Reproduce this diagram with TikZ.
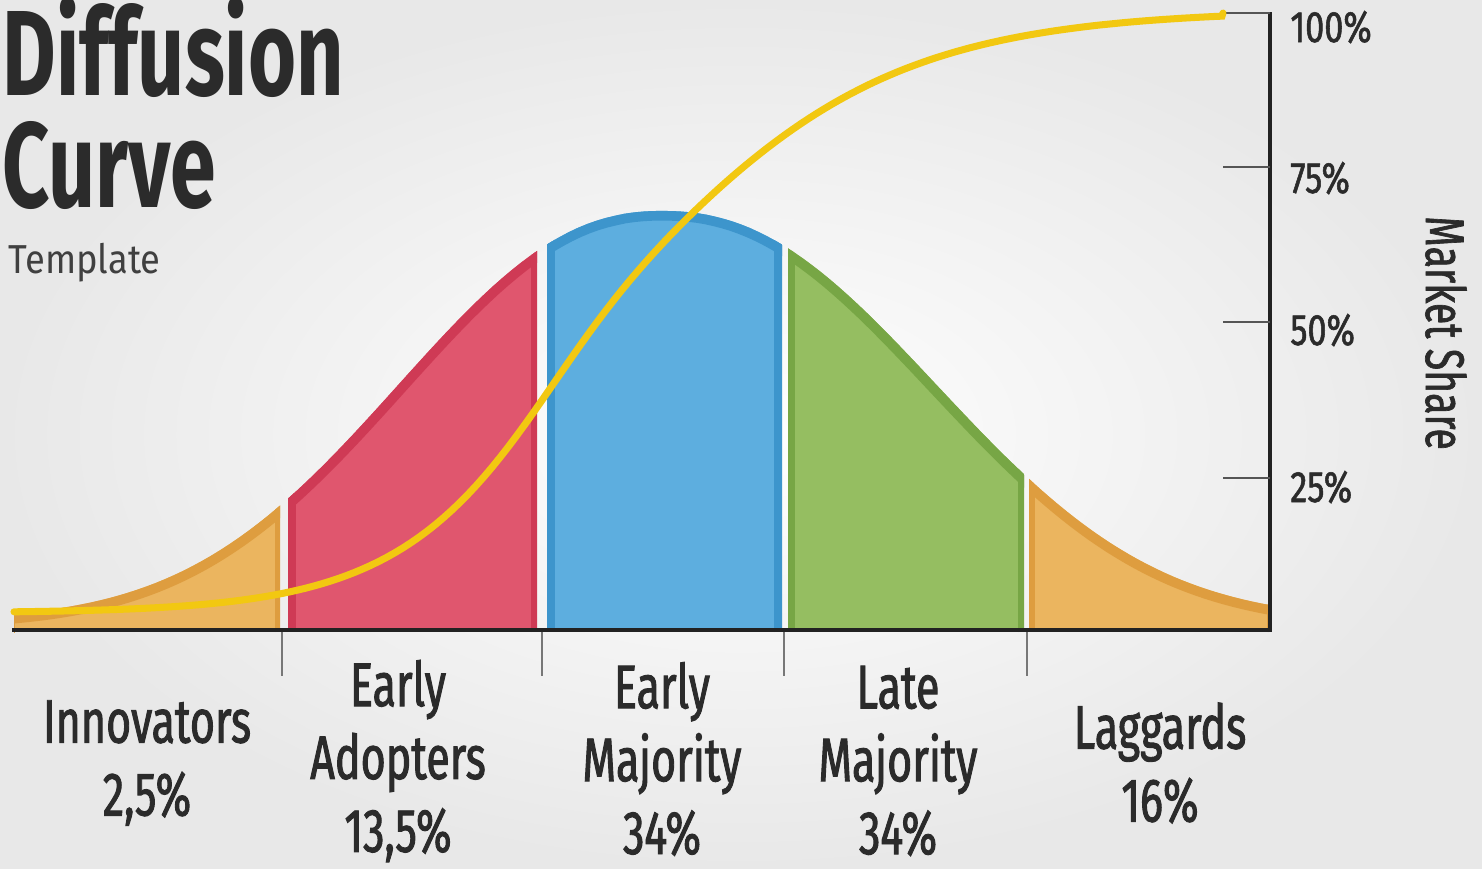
\documentclass[tikz,border=0pt]{standalone}
\usepackage{fontspec}
\setmainfont{Fira Sans}
\newfontfamily\condf[FakeStretch=0.70,FakeBold=1.5]{Fira Sans}
\newfontfamily\pctf[FakeStretch=0.78,FakeBold=1.2]{Fira Sans}
\newfontfamily\msf[FakeStretch=0.72,FakeBold=1.2]{Fira Sans}
\newfontfamily\titlef[FakeStretch=0.68]{Fira Sans}
\newfontfamily\tplf[FakeStretch=0.9]{Fira Sans}
\definecolor{txt}{HTML}{2B2B2B}
\definecolor{orL}{HTML}{EBB55F}
\definecolor{orD}{HTML}{DE9D3F}
\definecolor{redL}{HTML}{E0566E}
\definecolor{redD}{HTML}{CF3A55}
\definecolor{bluL}{HTML}{5DAEDF}
\definecolor{bluD}{HTML}{3D95CC}
\definecolor{grnL}{HTML}{95BE61}
\definecolor{grnD}{HTML}{77A645}
\definecolor{yel}{HTML}{F2C811}
\definecolor{axis}{HTML}{222222}
\definecolor{tick}{HTML}{555555}
\def\bellpath{plot[domain=14:662,samples=70] (\x,{bellf(\x,343)}) -- plot[domain=662:1270,samples=70] (\x,{bellf(\x,357)})}
% #1 x1, #2 x2, #3 fill, #4 dark, #5 left band, #6 right band
\newcommand\bellseg[6]{%
  \begin{scope}
    \clip (#1,632) rectangle (#2,0);
    \clip \bellpath -- (1270,632) -- (14,632) -- cycle;
    \fill[#3] (#1,632) rectangle (#2,0);
    \draw[#4,line width=11pt] \bellpath;
    \draw[#4,line width=#5] (#1,632) -- (#1,0);
    \draw[#4,line width=#6] (#2,632) -- (#2,0);
  \end{scope}}
\tikzset{
  lab/.style={font=\condf\fontsize{35}{41.5}\selectfont, text=txt, align=center, inner sep=0pt},
  pct/.style={font=\pctf\fontsize{25}{27}\selectfont, text=txt, anchor=base west, inner sep=0pt},
  axisline/.style={draw=axis, line width=2.6pt},
  tickline/.style={draw=tick, line width=1.6pt},
  btick/.style={draw=tick!80, line width=1.2pt},
  titlenode/.style={anchor=base west, inner sep=0pt, text=txt, font=\titlef\bfseries\fontsize{69}{72}\selectfont},
}
\begin{document}
\begin{tikzpicture}[x=0.02cm,y=-0.02cm,
  declare function={bellf(\x,\a)=620-409*exp(-pow((abs(\x-662)+0.01)/\a,2.25));
    sigf(\x)=613-603/(1+exp(-(\x-605)/(115+20*tanh((\x-605)/100))));}]
\useasboundingbox (0,0) rectangle (1482,869);
\shade[inner color=white, outer color=black!9] (0,0) rectangle (1482,869);

% bell segments
\bellseg{14}{280}{orL}{orD}{0pt}{5.5pt}
\bellseg{288}{537}{redL}{redD}{9pt}{7pt}
\bellseg{547}{782}{bluL}{bluD}{9pt}{9pt}
\bellseg{788}{1024}{grnL}{grnD}{8pt}{7pt}
\bellseg{1029}{1270}{orL}{orD}{7pt}{3.5pt}

% axes
\coordinate (o) at (12,630);
\coordinate (xe) at (1272,630);
\coordinate (yt) at (1270,12);
\coordinate (yb) at (1270,632);
\draw[axisline] (o) -- (xe);
\draw[draw=axis, line width=2.2pt] (yb) -- (yt);
\foreach \yy/\nm in {13/a,167/b,322/c,478/d}{
  \coordinate (tl\nm) at (1223,\yy);
  \coordinate (tr\nm) at (1270,\yy);
  \draw[tickline] (tl\nm) -- (tr\nm);
}
\foreach \xx/\nm in {282/a,542/b,784/c,1027/d}{
  \coordinate (bt\nm) at (\xx,632);
  \coordinate (bb\nm) at (\xx,676);
  \draw[btick] (bt\nm) -- (bb\nm);
}

% S-curve
\draw[yel, line width=4pt, line cap=round] plot[domain=14:1222, samples=150] (\x,{sigf(\x)}) -- (tla);

% titles
\node[titlenode] (t1) at (2,95) {Diffusion};
\node[titlenode] (t2) at (2,207) {Curve};
\node[anchor=base west, inner sep=0pt, text=txt!90, font=\tplf\fontsize{23}{26}\selectfont] (t3) at (8,273) {Template};

% percent labels
\node[pct] (p100) at (1290,42) {100\%};
\node[pct] (p75) at (1290,193) {75\%};
\node[pct] (p50) at (1290,345) {50\%};
\node[pct] (p25) at (1290,502) {25\%};
\node[rotate=-90, inner sep=0pt, text=txt, font=\msf\fontsize{31}{34}\selectfont] (ms) at (1446,333) {Market Share};

% category labels
\node[lab] (c1) at (147,763) {Innovators\\2,5\%};
\node[lab] (c2) at (398,761) {Early\\Adopters\\13,5\%};
\node[lab] (c3) at (662,759) {Early\\Majority\\34\%};
\node[lab] (c4) at (898,761) {Late\\Majority\\34\%};
\node[lab] (c5) at (1160,763) {Laggards\\16\%};
\end{tikzpicture}
\end{document}
